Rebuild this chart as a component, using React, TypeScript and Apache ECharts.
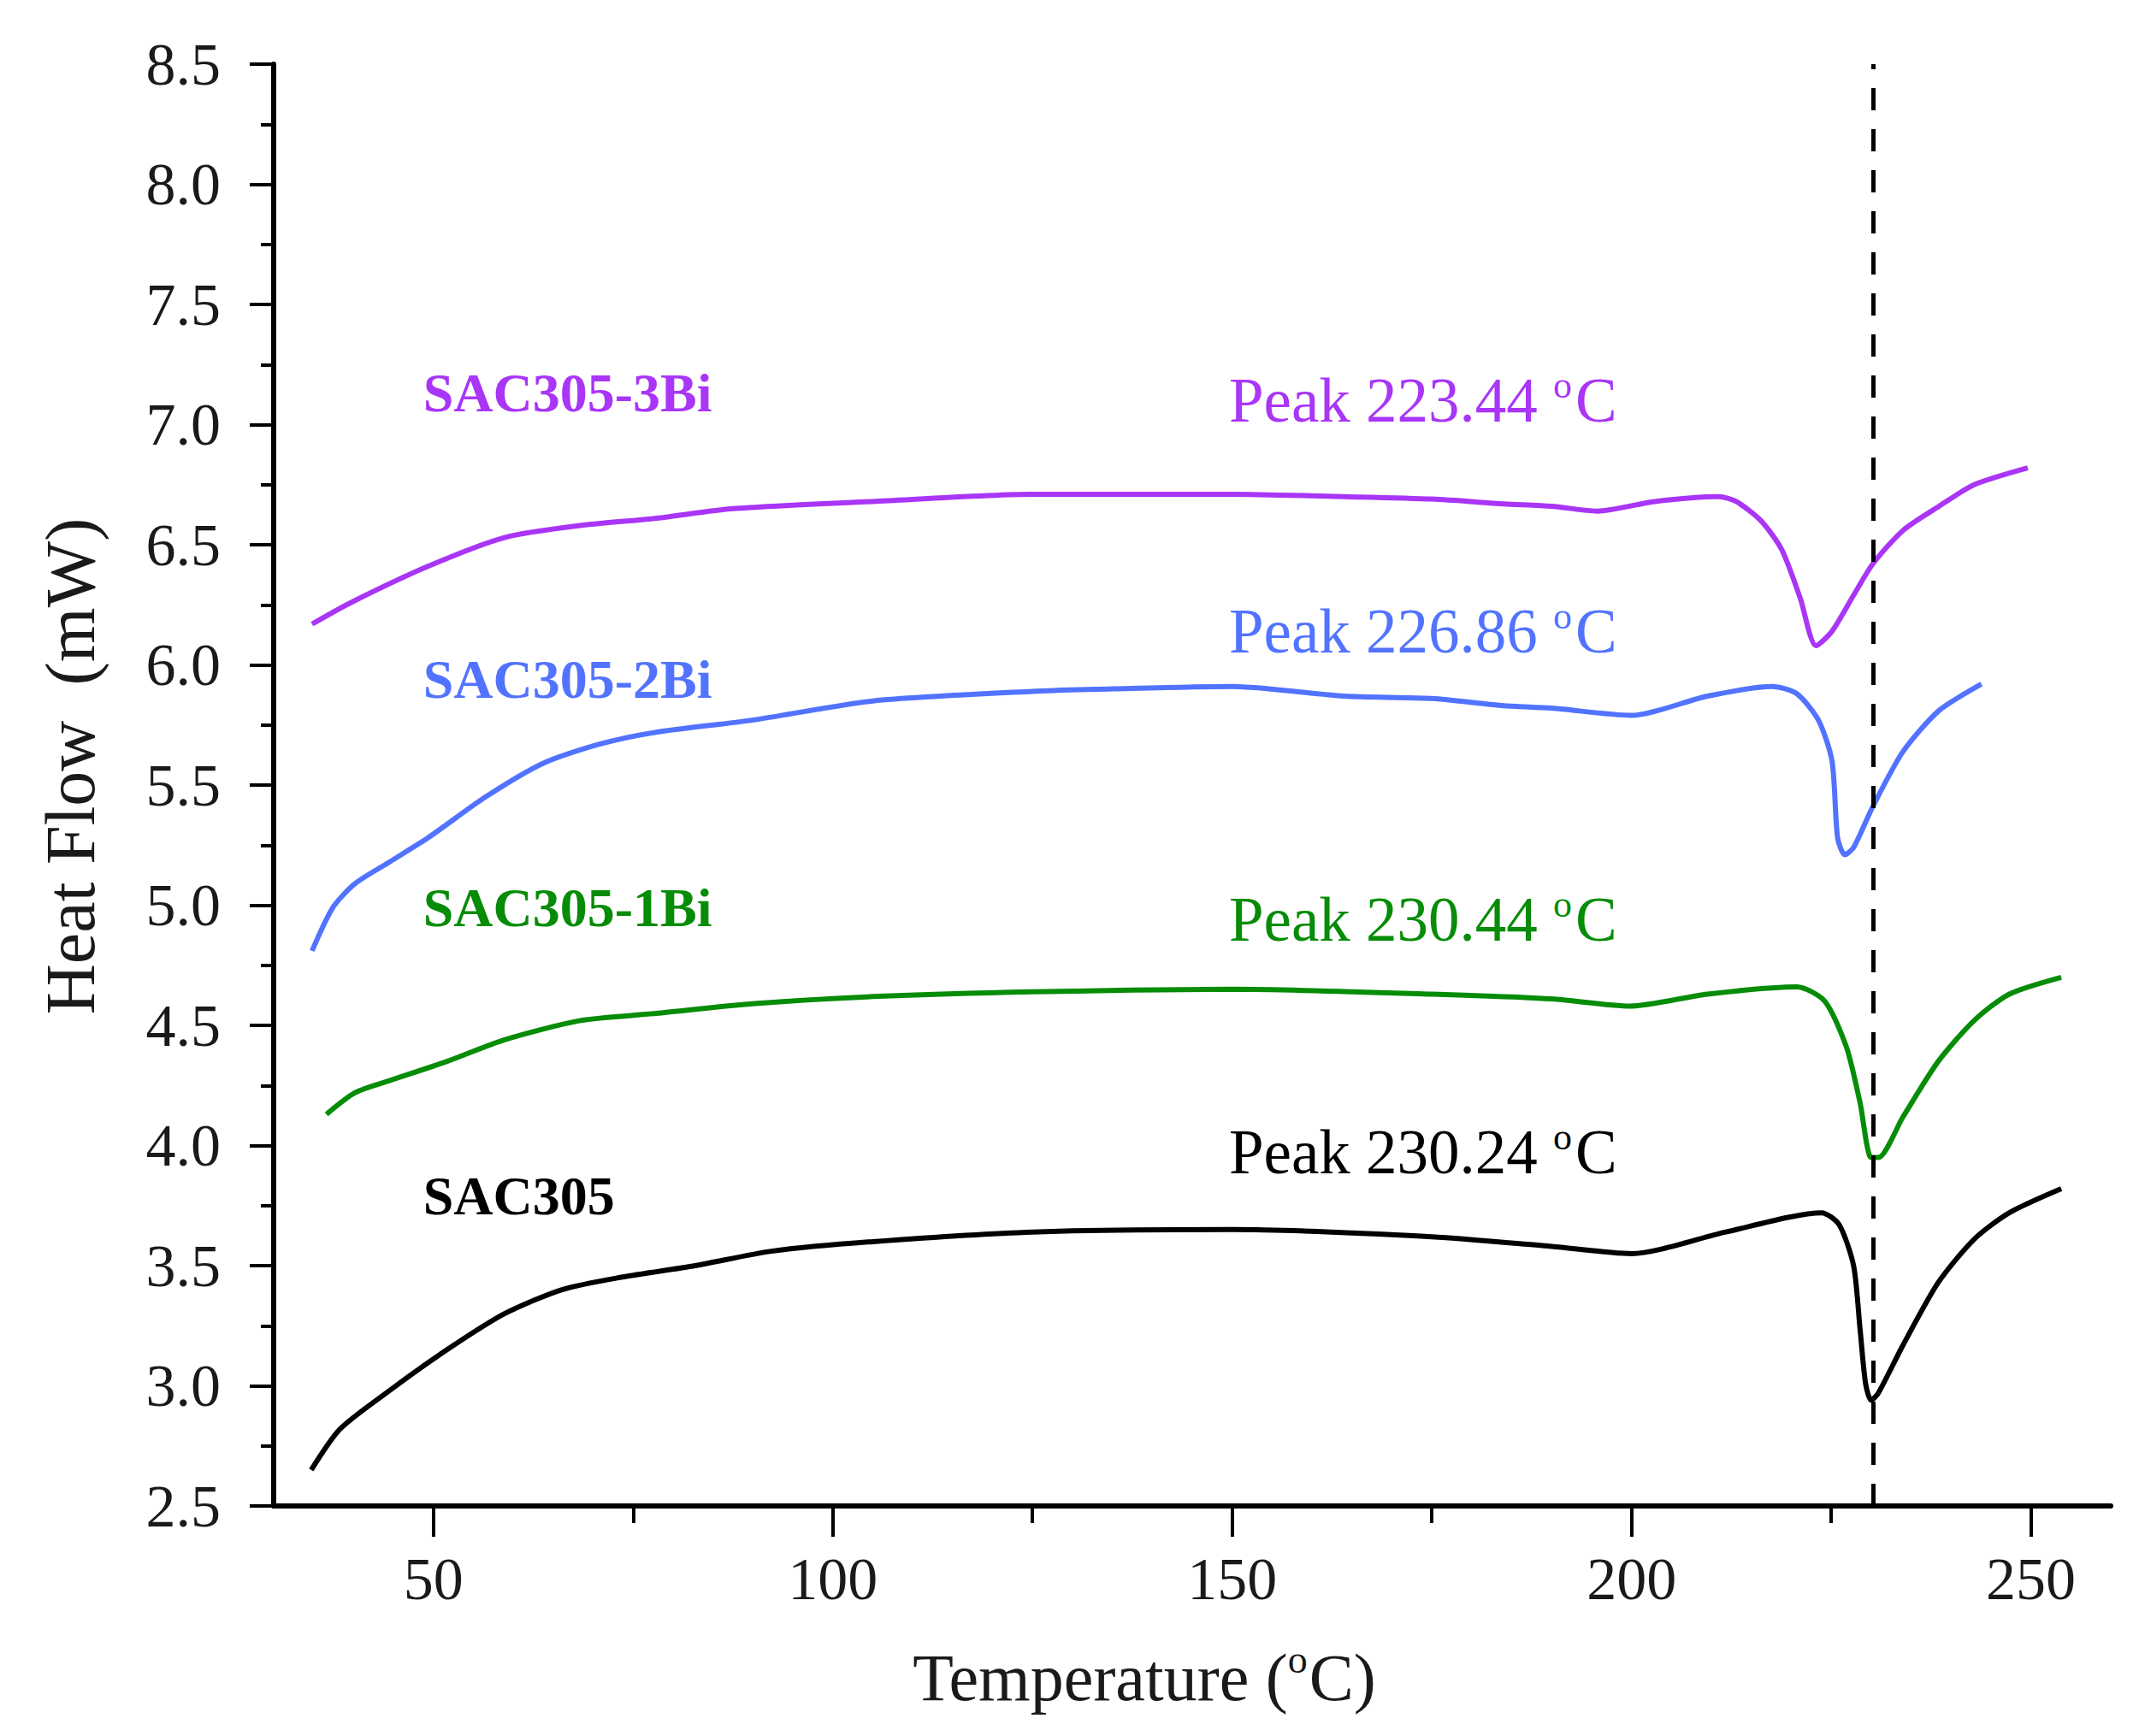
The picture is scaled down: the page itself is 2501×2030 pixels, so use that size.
import { useEffect, useRef } from 'react';
import * as echarts from 'echarts';

// DSC curves: temperature (°C) and heat flow (mW)
const sac3BiTemp = [34.8, 39.7, 49.3, 58.9, 68.4, 77.9, 87.5, 105, 125, 135, 150, 164, 175, 184, 190, 195.7, 202.9, 210.9, 213.1, 216.2, 218.8, 221.1, 223.1, 225.1, 227.8, 230.2, 234.0, 238.5, 242.9, 249.6];
const sac3BiFlow = [6.17, 6.26, 6.41, 6.53, 6.58, 6.61, 6.65, 6.68, 6.71, 6.71, 6.71, 6.70, 6.69, 6.67, 6.66, 6.64, 6.68, 6.70, 6.68, 6.60, 6.48, 6.28, 6.08, 6.14, 6.29, 6.42, 6.56, 6.66, 6.75, 6.82];

const sac2BiTemp = [34.8, 37.4, 40.2, 44.5, 49.3, 56.5, 63.7, 70.8, 77.9, 89.9, 105, 125, 135, 150, 164, 175, 184, 190, 200.0, 209.5, 217.6, 220.7, 223.4, 225.1, 225.8, 226.7, 227.8, 230.2, 234.0, 238.5, 243.8];
const sac2BiFlow = [4.81, 4.99, 5.09, 5.18, 5.28, 5.45, 5.59, 5.67, 5.72, 5.77, 5.85, 5.89, 5.90, 5.91, 5.87, 5.86, 5.83, 5.82, 5.79, 5.87, 5.91, 5.88, 5.77, 5.60, 5.28, 5.21, 5.24, 5.41, 5.64, 5.81, 5.92];

const sac1BiTemp = [36.6, 40.2, 44.5, 51.7, 58.9, 68.4, 77.9, 89.9, 105, 125, 150, 175, 190, 199.8, 209.5, 220.7, 224.2, 226.9, 228.6, 230.0, 230.9, 234.0, 238.4, 242.9, 247.3, 253.8];
const sac1BiFlow = [4.13, 4.22, 4.27, 4.35, 4.44, 4.52, 4.55, 4.59, 4.62, 4.64, 4.65, 4.63, 4.61, 4.58, 4.63, 4.66, 4.60, 4.41, 4.18, 3.95, 3.95, 4.12, 4.35, 4.52, 4.63, 4.70];

const sacTemp = [34.7, 38.3, 44.5, 51.7, 58.9, 66.1, 73.2, 82.8, 92.3, 105, 125, 150, 175, 190, 200.0, 211.8, 223.8, 226.0, 227.8, 228.6, 229.3, 230.0, 230.9, 234.0, 238.4, 242.9, 247.3, 253.8];
const sacFlow = [2.65, 2.82, 2.98, 3.15, 3.30, 3.40, 3.45, 3.50, 3.56, 3.60, 3.64, 3.65, 3.62, 3.58, 3.55, 3.64, 3.72, 3.67, 3.50, 3.24, 3.01, 2.94, 2.97, 3.17, 3.43, 3.61, 3.72, 3.82];

const SERIES_NAMES = ['SAC305-3Bi', 'SAC305-2Bi', 'SAC305-1Bi', 'SAC305'];
const COLORS = ['#a935f7', '#5273ff', '#078c07', '#000000'];
const PEAK_TEMPS = [223.44, 226.86, 230.44, 230.24];

// label anchors in data space (temperature, heat flow)
const NAME_ANCHOR_T = 48.7;
const NAME_ANCHOR_V = [7.13, 5.94, 4.99, 3.79];
const PEAK_ANCHOR_T = 149.6;
const PEAK_ANCHOR_V = [7.1, 6.14, 4.94, 3.97];

const X_MAJOR = [50, 100, 150, 200, 250];
const X_MINOR = [75, 125, 175, 225];

const FONT = "'Liberation Serif', 'Times New Roman', serif";
const TEXT_COLOR = '#1a1a1a';

const zip = (t: number[], v: number[]) => t.map((x, i) => [x, v[i]]);
const CURVES = [
  zip(sac3BiTemp, sac3BiFlow),
  zip(sac2BiTemp, sac2BiFlow),
  zip(sac1BiTemp, sac1BiFlow),
  zip(sacTemp, sacFlow),
];

export default function App() {
  const chartRef = useRef<HTMLDivElement>(null);

  useEffect(() => {
    if (!chartRef.current) return;
    const chart = echarts.init(chartRef.current, null, { renderer: 'svg' });

    const series = CURVES.map((data, i) => ({
      name: SERIES_NAMES[i],
      type: 'line' as const,
      data,
      showSymbol: false,
      smooth: 0.25,
      lineStyle: { color: COLORS[i], width: 6 },
      itemStyle: { color: COLORS[i] },
      z: 3,
      ...(i === 3
        ? {
            markLine: {
              silent: true,
              symbol: 'none',
              label: { show: false },
              lineStyle: { color: '#000', width: 5, type: [26, 22] },
              data: [{ xAxis: PEAK_TEMPS[3] }],
            },
          }
        : {}),
    }));

    chart.setOption({
      animation: false,
      backgroundColor: '#fff',
      grid: { left: 320, top: 75, right: 33, bottom: 269 },
      xAxis: [
        {
          type: 'value',
          min: 30,
          max: 260,
          axisLine: { show: true, lineStyle: { color: '#000', width: 6 } },
          axisTick: { show: true, customValues: X_MAJOR, length: 36, lineStyle: { color: '#000', width: 4 } },
          axisLabel: { customValues: X_MAJOR, fontSize: 70, fontFamily: FONT, color: TEXT_COLOR, margin: 50 },
          splitLine: { show: false },
        },
        {
          type: 'value',
          min: 30,
          max: 260,
          position: 'bottom',
          axisLine: { show: false },
          axisTick: { show: true, customValues: X_MINOR, length: 20, lineStyle: { color: '#000', width: 4 } },
          axisLabel: { show: false },
          splitLine: { show: false },
        },
      ],
      yAxis: {
        type: 'value',
        min: 2.5,
        max: 8.5,
        interval: 0.5,
        axisLine: { show: true, lineStyle: { color: '#000', width: 6 } },
        axisTick: { show: true, length: 28, lineStyle: { color: '#000', width: 4 } },
        minorTick: { show: true, splitNumber: 2, length: 15, lineStyle: { color: '#000', width: 4 } },
        axisLabel: {
          fontSize: 70,
          fontFamily: FONT,
          color: TEXT_COLOR,
          margin: 62,
          formatter: (v: number) => v.toFixed(1),
        },
        splitLine: { show: false },
        minorSplitLine: { show: false },
      },
      series,
    });

    const toPx = (t: number, v: number) =>
      chart.convertToPixel({ xAxisIndex: 0, yAxisIndex: 0 }, [t, v]) as number[];

    const nameTexts = SERIES_NAMES.map((name, i) => {
      const [x, y] = toPx(NAME_ANCHOR_T, NAME_ANCHOR_V[i]);
      return {
        type: 'text',
        x,
        y,
        style: {
          text: name,
          fill: COLORS[i],
          font: `bold 64px ${FONT}`,
          align: 'left',
          verticalAlign: 'middle',
        },
      };
    });

    const peakTexts = PEAK_TEMPS.map((t, i) => {
      const [x, y] = toPx(PEAK_ANCHOR_T, PEAK_ANCHOR_V[i]);
      return {
        type: 'text',
        x,
        y,
        style: {
          text: `{n|Peak ${t.toFixed(2)} }{s|o}{n|C}`,
          align: 'left',
          verticalAlign: 'middle',
          rich: {
            n: { fontSize: 73, fontFamily: FONT, fill: COLORS[i], lineHeight: 80 },
            s: { fontSize: 44, fontFamily: FONT, fill: COLORS[i], verticalAlign: 'top', lineHeight: 80, padding: [0, 4, 30, 0] },
          },
        },
      };
    });

    chart.setOption({
      graphic: [
        ...nameTexts,
        ...peakTexts,
        {
          type: 'text',
          x: 1338,
          y: 1961,
          style: {
            text: '{n|Temperature (}{s|o}{n|C)}',
            align: 'center',
            verticalAlign: 'middle',
            rich: {
              n: { fontSize: 78, fontFamily: FONT, fill: TEXT_COLOR, lineHeight: 88 },
              s: { fontSize: 46, fontFamily: FONT, fill: TEXT_COLOR, verticalAlign: 'top', lineHeight: 88, padding: [0, 2, 34, 0] },
            },
          },
        },
        {
          type: 'text',
          x: 82,
          y: 896,
          rotation: Math.PI / 2,
          style: {
            text: 'Heat Flow  (mW)',
            fill: TEXT_COLOR,
            font: `82px ${FONT}`,
            align: 'center',
            verticalAlign: 'middle',
          },
        },
      ],
    });

    return () => {
      chart.dispose();
    };
  }, []);

  return (
    <div
      ref={chartRef}
      style={{ position: 'absolute', left: 0, top: 0, width: 2501, height: 2030 }}
    />
  );
}
